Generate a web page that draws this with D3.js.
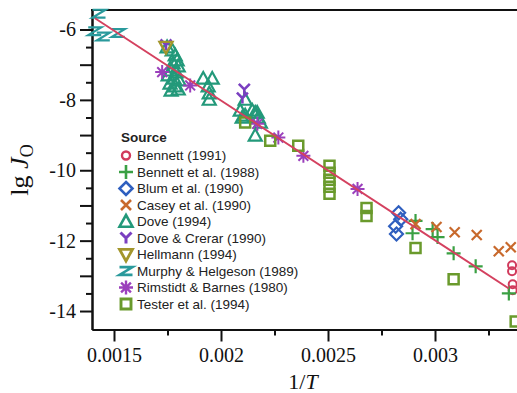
<!DOCTYPE html>
<html>
<head>
<meta charset="utf-8">
<script src="https://cdn.jsdelivr.net/npm/d3@7"></script>
<style>
  body { margin: 0; background: #fff; }
  svg { display: block; }
</style>
</head>
<body>
<svg id="chart" width="517" height="393"></svg>
<script>
// values: [1/T, lg J_O]
const bennett1991 = [[0.00336, -12.7], [0.00336, -12.87], [0.003363, -13.24], [0.003363, -13.41]];
const bennett1988 = [[0.002909, -11.44], [0.002895, -11.79], [0.002989, -11.67], [0.003012, -11.9],
  [0.003087, -12.36], [0.00319, -12.73], [0.003345, -13.5]];
const blum1990 = [[0.00283, -11.21], [0.00284, -11.39], [0.002816, -11.59], [0.00282, -11.81]];
const casey1990 = [[0.002909, -11.53], [0.003007, -11.61], [0.003092, -11.76], [0.003195, -11.84],
  [0.003298, -12.3], [0.003354, -12.19]];
const dove1994 = [[0.001748, -6.5], [0.001772, -6.59], [0.001786, -6.73], [0.001795, -6.87],
  [0.001776, -6.96], [0.0018, -7.04], [0.001767, -7.16], [0.00179, -7.21], [0.001753, -7.3],
  [0.001781, -7.39], [0.001804, -7.44], [0.001762, -7.53], [0.001786, -7.61], [0.0018, -7.7],
  [0.001767, -7.73],
  [0.001917, -7.39], [0.001959, -7.39], [0.00194, -7.61], [0.001945, -7.81], [0.001945, -7.99],
  [0.002113, -7.99], [0.00209, -8.3], [0.002099, -8.5], [0.002146, -8.3], [0.00216, -8.36],
  [0.002169, -8.36], [0.002174, -8.5], [0.002184, -8.64], [0.002113, -8.44], [0.00216, -9.01]];
const doveCrerar1990 = [[0.001743, -6.44], [0.002109, -7.7], [0.0021, -7.95]];
const hellmann1994 = [[0.001743, -6.5]];
const murphy1989 = [[0.00143, -5.55], [0.00141, -6.05], [0.00145, -6.2], [0.00152, -6.1]];
const rimstidt1980 = [[0.001725, -7.21], [0.001856, -7.59], [0.00217, -8.68], [0.002268, -9.07],
  [0.002385, -9.59], [0.002638, -10.53]];
const tester1994 = [[0.002113, -8.64], [0.00223, -9.16], [0.002361, -9.3], [0.002507, -9.87],
  [0.002507, -10.07], [0.002507, -10.27], [0.002507, -10.47], [0.002507, -10.67],
  [0.00268, -11.07], [0.00268, -11.3], [0.002909, -12.21], [0.003087, -13.1], [0.003377, -14.3]];

const fitX = [0.001411, 0.003345];
const fitY = [-5.68, -13.36];

const sourceNames = ['Bennett (1991)', 'Bennett et al. (1988)', 'Blum et al. (1990)', 'Casey et al. (1990)',
  'Dove (1994)', 'Dove & Crerar (1990)', 'Hellmann (1994)', 'Murphy & Helgeson (1989)',
  'Rimstidt & Barnes (1980)', 'Tester et al. (1994)'];
const seriesData = [bennett1991, bennett1988, blum1990, casey1990, dove1994, doveCrerar1990,
  hellmann1994, murphy1989, rimstidt1980, tester1994];

const xMajor = [0.0015, 0.002, 0.0025, 0.003];
const xMinor = [0.00175, 0.00225, 0.00275, 0.00325];
const yMajor = [-6, -7, -8, -9, -10, -11, -12, -13, -14];
const yMinor = [-6.5, -7.5, -8.5, -9.5, -10.5, -11.5, -12.5, -13.5];

// marker shapes, s = half size
const shapes = {
  circle: s => `M${s},0A${s},${s} 0 1 1 ${-s},0A${s},${s} 0 1 1 ${s},0Z`,
  plus: s => `M${-s},0H${s}M0,${-s}V${s}`,
  diamond: s => `M0,${-s}L${s},0L0,${s}L${-s},0Z`,
  cross: s => `M${-s},${-s}L${s},${s}M${-s},${s}L${s},${-s}`,
  triangle: s => `M0,${-s}L${s},${s * 0.8}L${-s},${s * 0.8}Z`,
  wye: s => `M0,0V${s}M0,0L${-s},${-s}M0,0L${s},${-s}`,
  invTriangle: s => `M${-s},${-s * 0.8}L${s},${-s * 0.8}L0,${s}Z`,
  zed: s => `M${-s},${-s * 0.6}H${s}L${-s},${s * 0.6}H${s}`,
  star: s => `M${-s},0H${s}M0,${-s}V${s}M${-s * .7},${-s * .7}L${s * .7},${s * .7}M${-s * .7},${s * .7}L${s * .7},${-s * .7}`,
  square: s => `M${-s},${-s}H${s}V${s}H${-s}Z`
};
const styles = [
  { shape: 'circle', size: 4, color: '#d13a5c', width: 2 },
  { shape: 'plus', size: 7, color: '#3aa043', width: 2.2 },
  { shape: 'diamond', size: 6.5, color: '#2f5fbf', width: 2.2 },
  { shape: 'cross', size: 5, color: '#c8692c', width: 2.2 },
  { shape: 'triangle', size: 6.5, color: '#23997a', width: 2.2 },
  { shape: 'wye', size: 5.5, color: '#7a3fc0', width: 2.6 },
  { shape: 'invTriangle', size: 6.5, color: '#a3962c', width: 2.4 },
  { shape: 'zed', size: 6.5, color: '#2a9a9c', width: 2.2 },
  { shape: 'star', size: 7, color: '#9b40bc', width: 2 },
  { shape: 'square', size: 5, color: '#6a9a2c', width: 2.5 }
];

const svg = d3.select('#chart');
const plotLeft = 92, plotRight = 530, plotTop = 10, plotBottom = 329.5;

const x = d3.scaleLinear().domain([0.0013972, 0.0034439]).range([plotLeft, plotRight]);
const y = d3.scaleLinear().domain([-5.446, -14.525]).range([plotTop, plotBottom]);

const serif = '"Liberation Serif", "Times New Roman", serif';
const sans = '"Liberation Sans", Arial, Helvetica, sans-serif';

function styleAxis(g) {
  g.attr('font-family', null).attr('font-size', null);
  g.select('.domain').attr('stroke', '#111').attr('stroke-width', 2);
  g.selectAll('.tick line').attr('stroke', '#111').attr('stroke-width', 2);
  g.selectAll('.tick text').attr('fill', '#111')
    .style('font-family', serif).style('font-size', '20px');
}

// minor ticks
svg.append('g').attr('transform', `translate(${plotLeft},0)`)
  .call(d3.axisLeft(y).tickValues(yMinor).tickSize(6).tickSizeOuter(0).tickFormat(''))
  .call(styleAxis);
svg.append('g').attr('transform', `translate(0,${plotBottom})`)
  .call(d3.axisBottom(x).tickValues(xMinor).tickSize(6).tickSizeOuter(0).tickFormat(''))
  .call(styleAxis);

// major ticks
svg.append('g').attr('transform', `translate(${plotLeft},0)`)
  .call(d3.axisLeft(y).tickValues(yMajor).tickSize(12).tickPadding(4).tickSizeOuter(0)
    .tickFormat(d => d % 2 === 0 ? String(d) : ''))
  .call(styleAxis);
svg.append('g').attr('transform', `translate(0,${plotBottom})`)
  .call(d3.axisBottom(x).tickValues(xMajor).tickSize(12).tickPadding(6).tickSizeOuter(0)
    .tickFormat(d => String(d)))
  .call(styleAxis);

// top frame line
svg.append('line')
  .attr('x1', plotLeft - 1).attr('x2', plotRight).attr('y1', plotTop).attr('y2', plotTop)
  .attr('stroke', '#111').attr('stroke-width', 2);

// points
seriesData.forEach((data, i) => {
  const st = styles[i];
  svg.append('g').selectAll('path')
    .data(data)
    .join('path')
    .attr('transform', d => `translate(${x(d[0])},${y(d[1])})`)
    .attr('d', shapes[st.shape](st.size))
    .attr('fill', 'none')
    .attr('stroke', st.color)
    .attr('stroke-width', st.width);
});

// fitted line
svg.append('path')
  .datum(d3.zip(fitX, fitY))
  .attr('fill', 'none')
  .attr('stroke', '#d4415f')
  .attr('stroke-width', 2)
  .attr('d', d3.line().x(d => x(d[0])).y(d => y(d[1])));

// legend
const legend = svg.append('g').style('font-family', sans).style('font-size', '13.5px').attr('fill', '#222');
legend.append('text')
  .attr('x', 121).attr('y', 142)
  .attr('font-weight', 'bold')
  .text('Source');
sourceNames.forEach((name, i) => {
  const st = styles[i];
  const cy = 155.5 + i * 16.5;
  legend.append('path')
    .attr('transform', `translate(126,${cy})`)
    .attr('d', shapes[st.shape](st.size))
    .attr('fill', 'none')
    .attr('stroke', st.color)
    .attr('stroke-width', st.width + 0.4);
  legend.append('text')
    .attr('x', 137).attr('y', cy)
    .attr('dy', '0.35em')
    .text(name);
});

// axis titles
const yTitle = svg.append('text')
  .attr('transform', 'translate(28,170) rotate(-90)')
  .attr('text-anchor', 'middle')
  .style('font-family', serif)
  .style('font-size', '26px')
  .attr('fill', '#111');
yTitle.append('tspan').text('lg ');
yTitle.append('tspan').attr('font-style', 'italic').text('J');
yTitle.append('tspan').style('font-size', '18px').attr('dy', 5).text('O');

const xTitle = svg.append('text')
  .attr('x', 303).attr('y', 389)
  .attr('text-anchor', 'middle')
  .style('font-family', serif)
  .style('font-size', '22px')
  .attr('fill', '#111');
xTitle.append('tspan').text('1/');
xTitle.append('tspan').attr('font-style', 'italic').text('T');
</script>
</body>
</html>
